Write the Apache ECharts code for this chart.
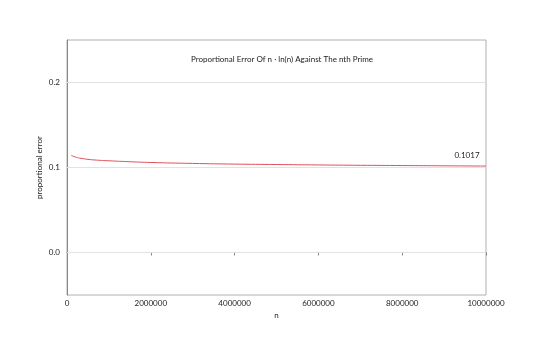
<!DOCTYPE html>
<html><head><meta charset="utf-8">
<script src="https://cdn.jsdelivr.net/npm/echarts@6/dist/echarts.min.js"></script>
<style>html,body{margin:0;padding:0;background:#fff}#c{width:540px;height:338px}</style>
</head><body><div id="c"></div>
<script>
const nValues = [100000, 200000, 300000, 500000, 700000, 1000000, 1500000, 2000000, 3000000, 4000000, 5000000, 6000000, 7000000, 8000000, 9000000, 10000000];
const errValues = [0.1142, 0.1123, 0.1111, 0.1096, 0.1087, 0.1079, 0.1068, 0.1059, 0.1048, 0.1040, 0.1035, 0.1030, 0.1026, 0.1023, 0.1020, 0.1017];
const yTickLabels = ['0.0', '0.1', '0.2'];
const titleText = 'Proportional Error Of n \u00b7 ln(n) Against The nth Prime';
const FONT = 'Lato';

const data = nValues.map((n, i) => [n, errValues[i]]);
const chart = echarts.init(document.getElementById('c'), null, {renderer: 'canvas'});
chart.setOption({
  animation: false,
  backgroundColor: '#fff',
  title: {text: titleText, left: 277, top: 50, textAlign: 'center',
    textStyle: {fontFamily: FONT, fontSize: 8, fontWeight: 'normal', color: '#222'}},
  grid: {left: 67, right: 54, top: 40, bottom: 43, show: true, borderColor: '#b0b0b0', borderWidth: 1},
  xAxis: {type: 'value', min: 0, max: 10000000, interval: 2000000,
    name: 'n', nameLocation: 'middle', nameGap: 15,
    nameTextStyle: {fontFamily: FONT, fontSize: 8, color: '#222'},
    axisLine: {lineStyle: {color: '#888'}},
    axisTick: {show: true, length: 3, lineStyle: {color: '#888'}},
    axisLabel: {fontFamily: FONT, fontSize: 8, color: '#222', margin: 4,
      formatter: v => String(Math.round(v))},
    splitLine: {show: false}},
  yAxis: {type: 'value', min: -0.05, max: 0.25, interval: 0.05,
    name: 'proportional error', nameLocation: 'middle', nameGap: 24, nameMoveOverlap: false,
    nameTextStyle: {fontFamily: FONT, fontSize: 8, color: '#222'},
    axisLine: {show: true, lineStyle: {color: '#888'}},
    axisTick: {show: false},
    axisLabel: {fontFamily: FONT, fontSize: 8, color: '#222', margin: 7,
      formatter: v => {
        const r = Math.round(v * 100) / 100;
        const idx = [0, 0.1, 0.2].findIndex(t => Math.abs(t - r) < 1e-9);
        return idx >= 0 ? yTickLabels[idx] : '';
      }},
    splitLine: {show: false}},
  series: [{
    type: 'line', data: data, smooth: true, showSymbol: false, symbol: 'none',
    lineStyle: {color: '#e0505c', width: 1},
    markLine: {silent: true, symbol: 'none', label: {show: false},
      lineStyle: {color: '#e2e2e2', width: 1, type: 'solid'},
      data: [{yAxis: 0}, {yAxis: 0.1}, {yAxis: 0.2}]},
    markPoint: {symbol: 'circle', symbolSize: 0,
      label: {show: true, formatter: errValues[errValues.length - 1].toFixed(4),
        position: 'top', offset: [-19, -2], fontFamily: FONT, fontSize: 8, color: '#222'},
      data: [{coord: data[data.length - 1]}]}
  }]
});
</script></body></html>
